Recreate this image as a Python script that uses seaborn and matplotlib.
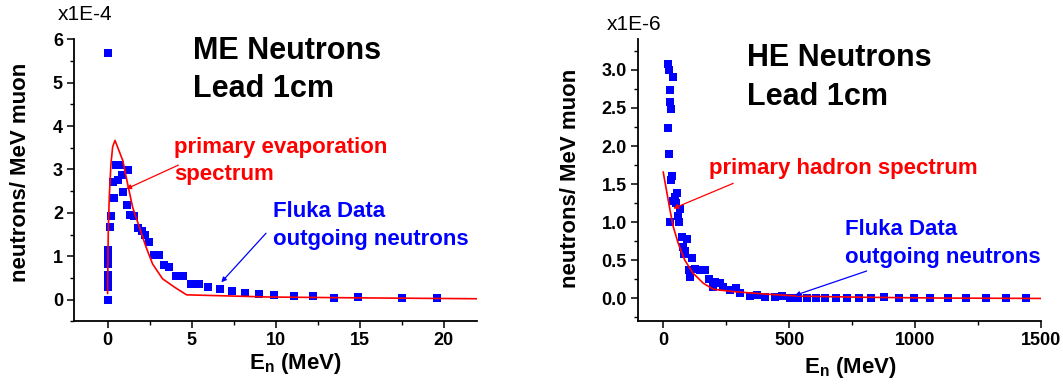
import numpy as np
import pandas as pd
import matplotlib
matplotlib.use('Agg')
import matplotlib.pyplot as plt
from matplotlib.ticker import MultipleLocator, FormatStrFormatter
import seaborn as sns

sns.set_style('ticks')
plt.rcParams['font.family'] = ['Liberation Sans', 'DejaVu Sans']
plt.rcParams['mathtext.fontset'] = 'custom'
plt.rcParams['mathtext.rm'] = 'Liberation Sans'
plt.rcParams['mathtext.bf'] = 'Liberation Sans:bold'
for key in ['text.color', 'axes.labelcolor', 'xtick.color', 'ytick.color', 'axes.edgecolor']:
    plt.rcParams[key] = 'black'

# ME neutrons, lead 1cm  (units of 1E-4 neutrons / MeV muon)
me_energy = [0, 0, 0, 0, 0, 0, 0, 0.05, 0.14, 0.2, 0.4, 0.3, 0.6, 0.5, 0.76, 0.83,
             1.23, 0.93, 1.13, 1.35, 1.55, 1.79, 2.02, 2.23, 2.48, 2.74, 3.04,
             3.33, 3.67, 4.07, 4.46, 4.96, 5.46, 6.0, 6.7, 7.4, 8.2, 9.0, 9.9,
             11.1, 12.2, 13.5, 14.9, 17.5, 19.6]
me_counts = [5.69, 0.0, 0.29, 0.4, 0.56, 0.83, 0.95, 1.15, 1.68, 1.92, 2.34, 2.71,
             2.76, 3.11, 3.11, 2.88, 2.98, 2.48, 2.17, 1.95, 1.92, 1.65, 1.57,
             1.48, 1.32, 1.03, 1.03, 0.8, 0.76, 0.54, 0.54, 0.35, 0.36, 0.28,
             0.24, 0.2, 0.15, 0.12, 0.1, 0.08, 0.08, 0.03, 0.05, 0.04, 0.035]
me_evap_energy = [0, 0.04, 0.1, 0.2, 0.3, 0.44, 0.9, 1.19, 1.49, 1.89, 2.29, 2.68,
                  3.27, 3.97, 4.7, 9.6, 15, 22]
me_evap_counts = [0.14, 1.6, 2.37, 3.13, 3.52, 3.67, 3.21, 2.67, 2.13, 1.67, 1.21,
                  0.82, 0.48, 0.29, 0.11, 0.06, 0.04, 0.02]

# HE neutrons, lead 1cm  (units of 1E-6 neutrons / MeV muon)
he_energy = [20, 23, 37, 29, 27, 31, 20, 24, 36, 33, 53, 46, 40, 50, 66, 60, 29, 62,
             73, 93, 79, 86, 83, 113, 103, 126, 146, 166, 106, 180, 206, 225, 199,
             238, 265, 289, 305, 344, 371, 404, 443, 470, 503, 536, 569, 605, 642,
             686, 728, 777, 825, 876, 935, 996, 1059, 1131, 1201, 1280, 1361, 1440]
he_counts = [3.07, 3.0, 2.91, 2.73, 2.58, 2.49, 2.23, 1.89, 1.61, 1.56, 1.38, 1.33,
             1.28, 1.25, 1.18, 1.08, 1.0, 1.0, 0.81, 0.78, 0.68, 0.62, 0.58, 0.53,
             0.37, 0.39, 0.37, 0.37, 0.28, 0.26, 0.22, 0.2, 0.15, 0.15, 0.11, 0.14,
             0.07, 0.03, 0.05, 0.02, 0.02, 0.03, 0.0, 0.01, 0.0, 0.0, 0.0, 0.01,
             0.01, 0.01, 0.01, 0.015, 0.0, 0.0, 0.0, 0.01, 0.0, 0.0, 0.01, 0.01]
he_hadron_energy = [0, 13, 27, 40, 60, 86, 119, 159, 199, 278, 411, 543, 800, 1100, 1500]
he_hadron_counts = [1.66, 1.42, 1.16, 0.94, 0.72, 0.5, 0.33, 0.2, 0.12, 0.09, 0.056,
                    0.03, 0.015, 0.005, 0.0]

W, H = 1063, 384
BLUE = '#0000ff'
RED = '#ff0000'


def fx(px):
    return px / W


def fy(py):
    return 1 - py / H


def style_axis(ax, xlim, ylim, xmaj, xmin, ymaj, ymin, yfmt):
    ax.set_xlim(xlim)
    ax.set_ylim(ylim)
    ax.xaxis.set_major_locator(MultipleLocator(xmaj))
    ax.xaxis.set_minor_locator(MultipleLocator(xmin))
    ax.yaxis.set_major_locator(MultipleLocator(ymaj))
    ax.yaxis.set_minor_locator(MultipleLocator(ymin))
    ax.yaxis.set_major_formatter(FormatStrFormatter(yfmt))
    sns.despine(ax=ax)
    for s in ['left', 'bottom']:
        ax.spines[s].set_linewidth(1.3)
        ax.spines[s].set_color('black')
    ax.tick_params(which='major', direction='out', length=5, width=1.1,
                   color='black', labelcolor='black', labelsize=13, pad=3)
    ax.tick_params(which='minor', direction='out', length=3, width=1.0, color='black')
    for lab in ax.get_xticklabels() + ax.get_yticklabels():
        lab.set_fontweight('bold')
    ax.set_xlabel('')
    ax.set_ylabel('')


fig = plt.figure(figsize=(W / 100, H / 100), dpi=100)
ax1 = fig.add_axes([fx(74), fy(321.3), (477.2 - 74) / W, (321.3 - 39.3) / H])
ax2 = fig.add_axes([fx(638), fy(321.3), (1041 - 638) / W, (321.3 - 39.3) / H])

me_df = pd.DataFrame({'energy': me_energy, 'counts': me_counts})
me_evap = pd.DataFrame({'energy': me_evap_energy, 'counts': me_evap_counts})
he_df = pd.DataFrame({'energy': he_energy, 'counts': he_counts})
he_had = pd.DataFrame({'energy': he_hadron_energy, 'counts': he_hadron_counts})

sns.scatterplot(data=me_df, x='energy', y='counts', ax=ax1, marker='s', s=27,
                color=BLUE, linewidth=0, zorder=2)
sns.lineplot(data=me_evap, x='energy', y='counts', ax=ax1, color=RED, lw=1.2,
             sort=False, estimator=None, zorder=3)
sns.scatterplot(data=he_df, x='energy', y='counts', ax=ax2, marker='s', s=27,
                color=BLUE, linewidth=0, zorder=2)
sns.lineplot(data=he_had, x='energy', y='counts', ax=ax2, color=RED, lw=1.2,
             sort=False, estimator=None, zorder=3)

style_axis(ax1, (-2, 22), (-0.5, 6), 5, 2.5, 1, 0.5, '%d')
style_axis(ax2, (-100, 1500), (-0.3, 3.4), 500, 250, 0.5, 0.25, '%.1f')

# annotation arrows
arrow_kw = dict(arrowstyle='-|>', lw=0.9, mutation_scale=7, shrinkA=0, shrinkB=0)
ax1.annotate('', xy=(1.11, 2.55), xytext=(4.21, 3.1),
             arrowprops=dict(color=RED, **arrow_kw))
ax1.annotate('', xy=(6.77, 0.4), xytext=(9.43, 1.53),
             arrowprops=dict(color=BLUE, **arrow_kw))
ax2.annotate('', xy=(40, 1.18), xytext=(278, 1.51),
             arrowprops=dict(color=RED, **arrow_kw))
ax2.annotate('', xy=(523, 0.04), xytext=(808, 0.36),
             arrowprops=dict(color=BLUE, **arrow_kw))

# texts, left panel
fig.text(fx(58), fy(15), 'x1E-4', fontsize=15, va='center', ha='left')
fig.text(fx(193), fy(51), 'ME Neutrons', fontsize=22, fontweight='bold', va='center')
fig.text(fx(193), fy(89), 'Lead 1cm', fontsize=22, fontweight='bold', va='center')
fig.text(fx(174), fy(153), 'primary evaporation', fontsize=16, fontweight='bold',
         color=RED, va='baseline')
fig.text(fx(174), fy(180), 'spectrum', fontsize=16, fontweight='bold',
         color=RED, va='baseline')
fig.text(fx(273), fy(217), 'Fluka Data', fontsize=16, fontweight='bold',
         color=BLUE, va='baseline')
fig.text(fx(273), fy(245), 'outgoing neutrons', fontsize=16, fontweight='bold',
         color=BLUE, va='baseline')
fig.text(fx(21), fy(172), 'neutrons/ MeV muon', fontsize=16, fontweight='bold',
         rotation=90, ha='center', va='center')
fig.text(fx(295), fy(363), r'E$_{\mathbf{n}}$ (MeV)', fontsize=16, fontweight='bold',
         ha='center', va='center')

# texts, right panel
fig.text(fx(607), fy(24), 'x1E-6', fontsize=15, va='center', ha='left')
fig.text(fx(747), fy(58), 'HE Neutrons', fontsize=22, fontweight='bold', va='center')
fig.text(fx(747), fy(97), 'Lead 1cm', fontsize=22, fontweight='bold', va='center')
fig.text(fx(709), fy(174), 'primary hadron spectrum', fontsize=16, fontweight='bold',
         color=RED, va='baseline')
fig.text(fx(845), fy(235), 'Fluka Data', fontsize=16, fontweight='bold',
         color=BLUE, va='baseline')
fig.text(fx(845), fy(263), 'outgoing neutrons', fontsize=16, fontweight='bold',
         color=BLUE, va='baseline')
fig.text(fx(570), fy(178), 'neutrons/ MeV muon', fontsize=16, fontweight='bold',
         rotation=90, ha='center', va='center')
fig.text(fx(850), fy(367), r'E$_{\mathbf{n}}$ (MeV)', fontsize=16, fontweight='bold',
         ha='center', va='center')

fig.savefig('out.png', dpi=100)
